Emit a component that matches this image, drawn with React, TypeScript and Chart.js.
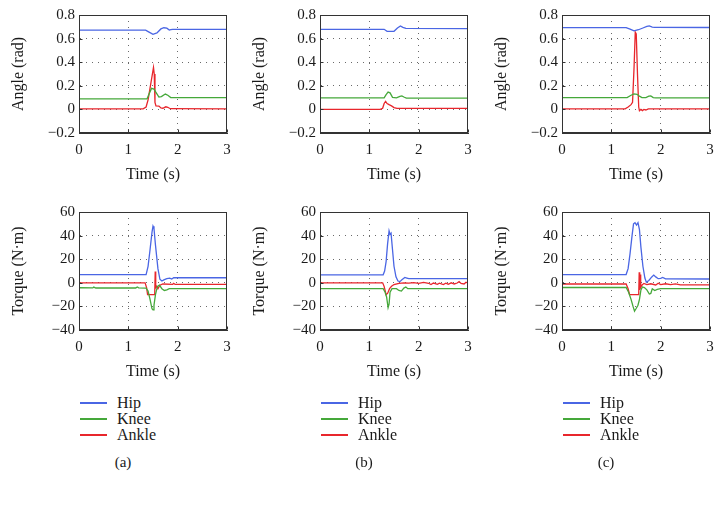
import React, { useEffect, useRef } from "react";
import { Chart, registerables } from "chart.js";
Chart.register(...registerables);

type Pt = [number, number];

// ---------- tick values ----------
const TIME_TICKS = [0, 1, 2, 3];
const ANGLE_TICKS = [-0.2, 0, 0.2, 0.4, 0.6, 0.8];
const TORQUE_TICKS = [-40, -20, 0, 20, 40, 60];
const SERIES_NAMES = ["Hip", "Knee", "Ankle"];
const PANEL_LABELS = ["(a)", "(b)", "(c)"];

// ---------- panel (a) ----------
const aAngleHip: Pt[] = [[0, 0.672], [1.35, 0.672], [1.42, 0.655], [1.5, 0.636], [1.58, 0.648], [1.66, 0.682], [1.72, 0.692], [1.78, 0.688], [1.83, 0.672], [1.86, 0.676], [1.9, 0.678], [3, 0.678]];
const aAngleKnee: Pt[] = [[0, 0.09], [1.38, 0.09], [1.42, 0.13], [1.47, 0.178], [1.52, 0.172], [1.56, 0.145], [1.62, 0.105], [1.67, 0.108], [1.75, 0.13], [1.8, 0.12], [1.86, 0.1], [3, 0.1]];
const aAngleAnkle: Pt[] = [[0, 0.005], [1.3, 0.005], [1.36, 0.02], [1.4, 0.08], [1.44, 0.18], [1.48, 0.28], [1.51, 0.355], [1.525, 0.3], [1.54, 0.06], [1.56, 0.03], [1.62, 0.028], [1.66, 0.012], [1.7, 0.01], [1.76, 0.022], [1.8, 0.018], [1.85, 0.006], [3, 0.005]];
const aTorqueHip: Pt[] = [[0, 7], [1.36, 7], [1.4, 14], [1.44, 28], [1.48, 43], [1.5, 48], [1.52, 46], [1.55, 32], [1.6, 12], [1.64, 3], [1.68, 1.5], [1.72, 2.5], [1.78, 3.5], [1.84, 4], [1.88, 3.2], [1.92, 4.3], [3, 4.3]];
const aTorqueKnee: Pt[] = [[0, -4.2], [0.28, -4.3], [0.3, -3.6], [0.34, -4.4], [1.15, -4.4], [1.18, -3.6], [1.21, -4.3], [1.36, -4.5], [1.4, -7], [1.44, -14], [1.48, -22], [1.5, -23], [1.52, -19], [1.55, -10], [1.59, -3], [1.63, -2], [1.68, -5], [1.73, -6.5], [1.78, -6], [1.83, -5], [3, -5]];
const aTorqueAnkle: Pt[] = [[0, 0], [1.34, 0], [1.37, -4], [1.39, -10], [1.535, -10], [1.545, 9.5], [1.555, -4], [1.57, -3], [1.6, -5], [1.64, -2], [1.7, -1], [1.9, -1.3], [1.92, -0.5], [1.95, -1.4], [3, -1.4]];

// ---------- panel (b) ----------
const bAngleHip: Pt[] = [[0, 0.679], [1.3, 0.679], [1.36, 0.662], [1.5, 0.662], [1.57, 0.69], [1.63, 0.707], [1.68, 0.695], [1.74, 0.686], [3, 0.685]];
const bAngleKnee: Pt[] = [[0, 0.097], [1.3, 0.097], [1.34, 0.125], [1.38, 0.147], [1.42, 0.14], [1.47, 0.102], [1.55, 0.098], [1.62, 0.11], [1.66, 0.115], [1.7, 0.105], [1.75, 0.096], [3, 0.095]];
const bAngleAnkle: Pt[] = [[0, 0.0], [1.22, 0.0], [1.27, 0.01], [1.3, 0.05], [1.33, 0.068], [1.36, 0.05], [1.4, 0.04], [1.45, 0.03], [1.5, 0.015], [1.56, 0.008], [3, 0.008]];
const bTorqueHip: Pt[] = [[0, 6.8], [1.28, 6.8], [1.31, 10], [1.34, 18], [1.37, 33], [1.4, 44], [1.42, 41], [1.44, 42], [1.47, 28], [1.5, 14], [1.54, 5], [1.58, 1.5], [1.62, 1], [1.66, 2.5], [1.72, 4.5], [1.76, 4], [1.8, 3.5], [3, 3.5]];
const bTorqueKnee: Pt[] = [[0, -5], [1.28, -5], [1.32, -8], [1.35, -12], [1.38, -21], [1.4, -18], [1.42, -8], [1.46, -5], [1.55, -5], [1.6, -6.5], [1.65, -7], [1.7, -4.5], [1.74, -3.5], [1.78, -5], [3, -5]];
const bTorqueAnkle: Pt[] = [[0, 0], [1.27, 0], [1.3, -3], [1.34, -10], [1.37, -9], [1.41, -5], [1.45, -3], [1.5, -1.5], [1.6, -0.5], [1.7, 0], [1.8, -0.3], [1.9, 0.2], [2.0, -0.5], [2.1, 0.3], [2.2, -0.4], [2.25, -1.5], [2.3, -0.2], [2.38, -1.3], [2.42, -0.3], [2.5, -1.5], [2.55, -0.3], [2.6, -1.2], [2.66, 0], [2.72, -1], [2.78, -0.2], [2.82, 1], [2.86, -0.5], [2.92, -1], [2.96, 0.5], [3, -0.3]];

// ---------- panel (c) ----------
const cAngleHip: Pt[] = [[0, 0.693], [1.3, 0.693], [1.38, 0.68], [1.46, 0.665], [1.55, 0.675], [1.64, 0.69], [1.72, 0.703], [1.77, 0.708], [1.83, 0.698], [1.88, 0.695], [3, 0.694]];
const cAngleKnee: Pt[] = [[0, 0.1], [1.32, 0.1], [1.4, 0.12], [1.46, 0.132], [1.52, 0.128], [1.57, 0.112], [1.62, 0.1], [1.7, 0.1], [1.76, 0.112], [1.8, 0.114], [1.85, 0.1], [1.9, 0.097], [3, 0.097]];
const cAngleAnkle: Pt[] = [[0, 0.005], [1.28, 0.005], [1.34, 0.02], [1.4, 0.04], [1.43, 0.06], [1.46, 0.35], [1.485, 0.655], [1.505, 0.64], [1.53, 0.3], [1.555, 0.02], [1.57, -0.012], [1.6, 0.0], [1.63, -0.01], [1.66, 0.0], [1.7, -0.005], [1.75, 0.005], [3, 0.005]];
const cTorqueHip: Pt[] = [[0, 7], [1.3, 7], [1.34, 12], [1.38, 25], [1.42, 40], [1.45, 50], [1.48, 51], [1.51, 49], [1.54, 51], [1.57, 45], [1.6, 30], [1.64, 14], [1.68, 4], [1.71, 0.5], [1.76, 2], [1.82, 5], [1.86, 6.5], [1.9, 5], [1.95, 3.5], [2.0, 3.8], [2.04, 4.5], [2.1, 3.3], [3, 3.2]];
const cTorqueKnee: Pt[] = [[0, -4], [1.3, -4], [1.35, -8], [1.4, -14], [1.44, -20], [1.47, -24], [1.5, -22], [1.54, -19], [1.57, -14], [1.6, -6], [1.63, -3.5], [1.67, -4], [1.72, -6], [1.77, -9.5], [1.8, -9], [1.83, -5], [1.88, -6.5], [1.93, -5.5], [2.0, -5], [3, -5]];
const cTorqueAnkle: Pt[] = [[0, -1], [1.3, -1], [1.34, -5], [1.37, -10], [1.555, -10], [1.565, 9], [1.575, -6], [1.585, 7], [1.595, -4], [1.62, -2], [1.66, -0.5], [1.72, -1.5], [1.8, -0.8], [1.9, -1.8], [1.95, -0.3], [2.0, -1.5], [2.1, -0.8], [2.2, -1.6], [2.3, -0.9], [2.4, -1.8], [3, -1.8]];

const COLORS = ["#4a66e4", "#45a83a", "#e8262c"];
const FONT = '"Liberation Serif", "Times New Roman", serif';
const TEXT = "#1a1a1a";

const fmt = (v: number) => {
  const r = Math.round(v * 10) / 10;
  if (r === 0) return "0";
  const s = Math.abs(r).toString();
  return r < 0 ? "\u2212" + s : s;
};

const Y_W = 79;
const PAD_TOP = 16;
const PAD_RIGHT = 16;
const X_H = 51;
const PLOT_W = 148;
const PLOT_H = 118;

const boxPlugin = {
  id: "boxPlugin",
  afterDraw(chart: any) {
    const { ctx, chartArea: a, scales } = chart;
    ctx.save();
    ctx.strokeStyle = "#333";
    ctx.lineWidth = 1;
    const l = Math.round(a.left) + 0.5;
    const t = Math.round(a.top) + 0.5;
    const r = Math.round(a.right) - 0.5;
    const b = Math.round(a.bottom) - 0.5;
    ctx.strokeRect(l, t, r - l, b - t);
    ctx.beginPath();
    for (const tk of scales.x.ticks) {
      const x = Math.round(scales.x.getPixelForValue(tk.value)) + 0.5;
      ctx.moveTo(x, b);
      ctx.lineTo(x, b - 3);
    }
    for (const tk of scales.y.ticks) {
      const y = Math.round(scales.y.getPixelForValue(tk.value)) + 0.5;
      ctx.moveTo(l, y);
      ctx.lineTo(l + 3, y);
    }
    ctx.stroke();
    ctx.restore();
  },
};

type PanelProps = {
  plotLeft: number;
  plotTop: number;
  series: Pt[][];
  yTicks: number[];
  yTitle: string;
};

function Panel({ plotLeft, plotTop, series, yTicks, yTitle }: PanelProps) {
  const ref = useRef<HTMLCanvasElement | null>(null);
  const width = Y_W + PLOT_W + PAD_RIGHT;
  const height = PAD_TOP + PLOT_H + X_H;
  useEffect(() => {
    if (!ref.current) return;
    const yMin = yTicks[0];
    const yMax = yTicks[yTicks.length - 1];
    const xMin = TIME_TICKS[0];
    const xMax = TIME_TICKS[TIME_TICKS.length - 1];
    const chart = new Chart(ref.current, {
      type: "line",
      data: {
        datasets: series.map((s, i) => ({
          label: SERIES_NAMES[i],
          data: s.map(([x, y]) => ({ x, y })),
          borderColor: COLORS[i],
          backgroundColor: COLORS[i],
          borderWidth: 1.3,
          pointRadius: 0,
          tension: 0,
          fill: false,
        })),
      },
      options: {
        animation: false,
        responsive: false,
        maintainAspectRatio: false,
        devicePixelRatio: 1,
        layout: { padding: { top: PAD_TOP, right: PAD_RIGHT, left: 0, bottom: 0 } },
        plugins: { legend: { display: false }, tooltip: { enabled: false } },
        scales: {
          x: {
            type: "linear",
            min: xMin,
            max: xMax,
            afterFit: (s: any) => {
              s.height = X_H;
            },
            afterBuildTicks: (s: any) => {
              s.ticks = TIME_TICKS.map((v) => ({ value: v }));
            },
            ticks: {
              font: { family: FONT, size: 15 },
              color: TEXT,
              padding: 8,
              maxRotation: 0,
              autoSkip: false,
              callback: (v: any) => fmt(Number(v)),
            },
            grid: {
              color: (c: any) =>
                c.tick && (c.tick.value === xMin || c.tick.value === xMax) ? "rgba(0,0,0,0)" : "#6a6a6a",
              drawTicks: false,
              lineWidth: 1,
            },
            border: { display: true, color: "#333", dash: [1, 5] },
            title: {
              display: true,
              text: "Time (s)",
              font: { family: FONT, size: 16 },
              color: TEXT,
              padding: { top: 0, bottom: 0 },
            },
          },
          y: {
            type: "linear",
            min: yMin,
            max: yMax,
            afterFit: (s: any) => {
              s.width = Y_W;
            },
            afterBuildTicks: (s: any) => {
              s.ticks = yTicks.map((v) => ({ value: v }));
            },
            ticks: {
              font: { family: FONT, size: 15 },
              color: TEXT,
              padding: 4,
              autoSkip: false,
              callback: (v: any) => fmt(Number(v)),
            },
            grid: {
              color: (c: any) =>
                c.tick && (Math.abs(c.tick.value - yMin) < 1e-9 || Math.abs(c.tick.value - yMax) < 1e-9)
                  ? "rgba(0,0,0,0)"
                  : "#6a6a6a",
              drawTicks: false,
              lineWidth: 1,
            },
            border: { display: true, color: "#333", dash: [1, 5] },
            title: {
              display: true,
              text: yTitle,
              font: { family: FONT, size: 16 },
              color: TEXT,
              padding: { top: 9, bottom: 0 },
            },
          },
        },
      } as any,
      plugins: [boxPlugin],
    });
    return () => chart.destroy();
  }, []);
  return (
    <canvas
      ref={ref}
      width={width}
      height={height}
      style={{
        position: "absolute",
        left: plotLeft - Y_W,
        top: plotTop - PAD_TOP,
        width,
        height,
      }}
    />
  );
}

function Legend({ plotLeft, label }: { plotLeft: number; label: string }) {
  const ys = [403, 419, 435];
  return (
    <>
      {SERIES_NAMES.map((n, i) => (
        <React.Fragment key={n}>
          <div
            style={{
              position: "absolute",
              left: plotLeft + 1,
              top: ys[i] - 1,
              width: 27,
              height: 1.6,
              background: COLORS[i],
            }}
          />
          <div
            style={{
              position: "absolute",
              left: plotLeft + 38,
              top: ys[i] - 10,
              height: 20,
              lineHeight: "20px",
              fontFamily: FONT,
              fontSize: 16,
              color: TEXT,
              whiteSpace: "nowrap",
            }}
          >
            {n}
          </div>
        </React.Fragment>
      ))}
      <div
        style={{
          position: "absolute",
          left: plotLeft + 24,
          width: 40,
          textAlign: "center",
          top: 452,
          height: 20,
          lineHeight: "20px",
          fontFamily: FONT,
          fontSize: 15,
          color: TEXT,
        }}
      >
        {label}
      </div>
    </>
  );
}

const PLOT_LEFTS = [79, 320, 562];
const TOP_ROW = 15;
const BOTTOM_ROW = 212;

export default function App() {
  const angleSets: Pt[][][] = [
    [aAngleHip, aAngleKnee, aAngleAnkle],
    [bAngleHip, bAngleKnee, bAngleAnkle],
    [cAngleHip, cAngleKnee, cAngleAnkle],
  ];
  const torqueSets: Pt[][][] = [
    [aTorqueHip, aTorqueKnee, aTorqueAnkle],
    [bTorqueHip, bTorqueKnee, bTorqueAnkle],
    [cTorqueHip, cTorqueKnee, cTorqueAnkle],
  ];
  return (
    <div style={{ position: "absolute", left: 0, top: 0, width: 725, height: 505, background: "#fff" }}>
      {PLOT_LEFTS.map((L, i) => (
        <React.Fragment key={i}>
          <Panel plotLeft={L} plotTop={TOP_ROW} series={angleSets[i]} yTicks={ANGLE_TICKS} yTitle="Angle (rad)" />
          <Panel plotLeft={L} plotTop={BOTTOM_ROW} series={torqueSets[i]} yTicks={TORQUE_TICKS} yTitle="Torque (N·m)" />
          <Legend plotLeft={L} label={PANEL_LABELS[i]} />
        </React.Fragment>
      ))}
    </div>
  );
}
